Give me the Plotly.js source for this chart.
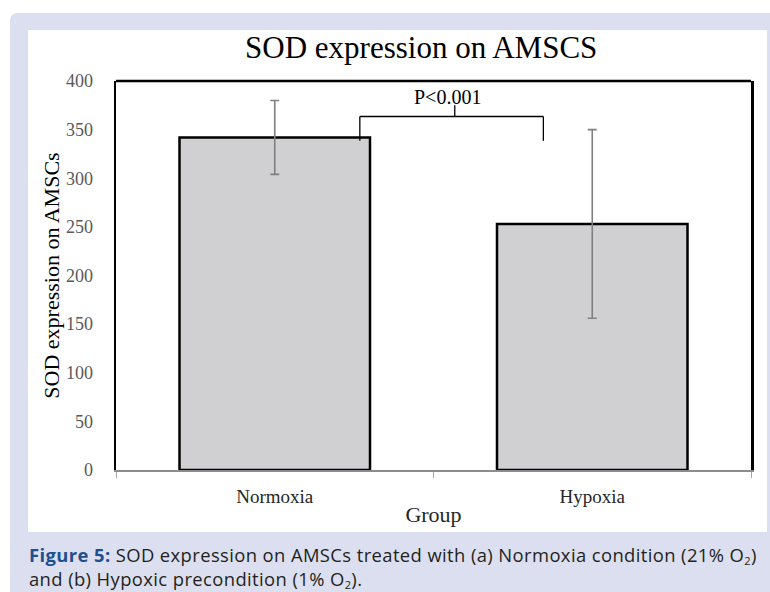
<!DOCTYPE html>
<html>
<head>
<meta charset="utf-8">
<script src="https://cdn.plot.ly/plotly-3.0.1.min.js"></script>
<style>
  html, body { margin:0; padding:0; background:#ffffff; }
  #page { position:relative; width:770px; height:592px; overflow:hidden; background:#ffffff; }
  #panel { position:absolute; left:10px; top:13px; width:760px; height:579px; background:#dcdff0; border-top-left-radius:7px; }
  #inner { position:absolute; left:28px; top:30px; width:739px; height:502px; background:#ffffff; }
  #chart { position:absolute; left:0; top:0; width:770px; height:592px; }
  .cap { position:absolute; left:29px; height:24px; overflow:visible; font-family:"Open Sans", sans-serif; font-size:18.4px; letter-spacing:0.4px; line-height:24px; color:#231f20; white-space:nowrap; }
  #cap1 { top:543px; }
  #cap2 { top:567px; }
  .cap b { color:#1f4f8f; }
  .cap sub { font-size:11px; vertical-align:baseline; position:relative; top:3px; line-height:0; }
</style>
</head>
<body>
<div id="page">
  <div id="panel"></div>
  <div id="inner"></div>
  <div id="chart"></div>
  <div class="cap" id="cap1"><b>Figure 5:</b> SOD expression on AMSCs treated with (a) Normoxia condition (21% O<sub>2</sub>)</div>
  <div class="cap" id="cap2">and (b) Hypoxic precondition (1% O<sub>2</sub>).</div>
</div>
<script>
// Data
const groups = ["Normoxia", "Hypoxia"];
const sodMean = [342, 253];
const sodErr = [38, 97];
const yTickVals = [0, 50, 100, 150, 200, 250, 300, 350, 400];
const pLabel = "P<0.001";
// significance bracket (category-index x, value y)
const bracketX = [0.268, 0.846];
const bracketTop = 363.5;
const bracketLegBottom = 338.5;
const bracketMidX = 0.567;
const bracketMidTop = 375;

const serif = "Liberation Serif, Times New Roman, serif";

const trace = {
  type: "bar",
  x: groups,
  y: sodMean,
  marker: { color: "#d0cfd2", line: { color: "#000000", width: 2.5 } },
  error_y: { type: "data", array: sodErr, visible: true, color: "#7f7f7f", thickness: 1.6, width: 4.5 },
  hoverinfo: "x+y"
};

const layout = {
  width: 770, height: 592,
  paper_bgcolor: "rgba(0,0,0,0)",
  plot_bgcolor: "#ffffff",
  margin: { l: 116, r: 19, t: 81, b: 122, pad: 0 },
  bargap: 0.4,
  showlegend: false,
  title: {
    text: "SOD expression on AMSCS",
    font: { family: serif, size: 31, color: "#000000" },
    xref: "container", x: 0.547, xanchor: "center",
    yref: "container", y: 0.921, yanchor: "middle"
  },
  xaxis: {
    type: "category",
    showgrid: false, zeroline: false,
    showline: true, linecolor: "#8c8c8c", linewidth: 1.5,
    ticks: "outside", tickson: "boundaries", ticklen: 6, tickcolor: "#a6a6a6", tickwidth: 1,
    tickfont: { family: serif, size: 19, color: "#262626" },
    ticklabelstandoff: 9,
    title: { text: "Group", font: { family: serif, size: 22, color: "#262626" }, standoff: 0 }
  },
  yaxis: {
    range: [0, 400],
    tickvals: yTickVals,
    showgrid: false, zeroline: false,
    showline: true, mirror: true, linecolor: "#000000", linewidth: 2.5,
    ticks: "",
    tickfont: { family: serif, size: 18, color: "#595959" },
    ticklabelstandoff: 17,
    title: { text: "SOD expression on AMSCs", font: { family: serif, size: 22, color: "#000000" }, standoff: 0 }
  },
  shapes: [
    { type: "line", xref: "paper", yref: "paper", x0: 0, x1: 1, y0: 1, y1: 1, line: { color: "#000000", width: 2.5 } },
    { type: "line", xref: "x", yref: "y", x0: bracketX[0], x1: bracketX[1], y0: bracketTop, y1: bracketTop, line: { color: "#000000", width: 1.3 } },
    { type: "line", xref: "x", yref: "y", x0: bracketX[0], x1: bracketX[0], y0: bracketTop, y1: bracketLegBottom, line: { color: "#000000", width: 1.3 } },
    { type: "line", xref: "x", yref: "y", x0: bracketX[1], x1: bracketX[1], y0: bracketTop, y1: bracketLegBottom, line: { color: "#000000", width: 1.3 } },
    { type: "line", xref: "x", yref: "y", x0: bracketMidX, x1: bracketMidX, y0: bracketTop, y1: bracketMidTop, line: { color: "#000000", width: 1.3 } }
  ],
  annotations: [
    { text: pLabel, xref: "x", yref: "y", x: 0.545, y: 384, xanchor: "center", yanchor: "middle", showarrow: false,
      font: { family: serif, size: 20, color: "#000000" } }
  ]
};

Plotly.newPlot("chart", [trace], layout, { displayModeBar: false, staticPlot: true });
</script>
</body>
</html>
